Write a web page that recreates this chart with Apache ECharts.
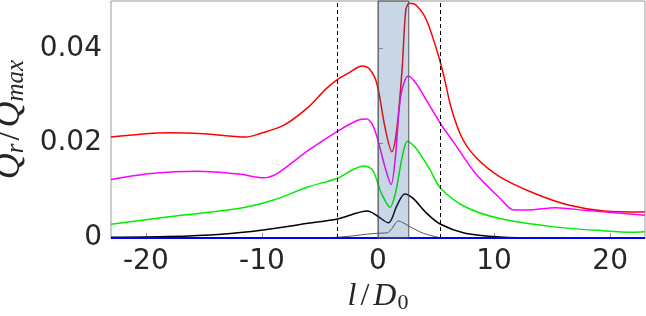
<!DOCTYPE html>
<html>
<head>
<meta charset="utf-8">
<script src="https://cdn.jsdelivr.net/npm/echarts@6/dist/echarts.min.js"></script>
<style>
  html, body { margin: 0; padding: 0; background: #fff; }
  #main { width: 646px; height: 316px; }
</style>
</head>
<body>
<div id="main"></div>
<script>
// values, x = l/D0, y = Qr/Qmax
var redX = [-23, -18, -15, -11.4, -10.2, -8.1, -6, -4.5, -3.5, -2.4, -1.4, -0.75, -0.1, 0.6, 1.19, 1.64, 2.09, 2.39, 2.69, 3.29, 4.19, 5.24, 5.69, 6.29, 7.2, 8.4, 10.5, 13.5, 16.5, 19.5, 23]
var redY = [0.0213, 0.0222, 0.0220, 0.0213, 0.0220, 0.0238, 0.0276, 0.0314, 0.0334, 0.0350, 0.0363, 0.0357, 0.0326, 0.0234, 0.0182, 0.0234, 0.0361, 0.0480, 0.0495, 0.0491, 0.0459, 0.0382, 0.0340, 0.0276, 0.0213, 0.0171, 0.0129, 0.0094, 0.0069, 0.0057, 0.0055]

var magentaX = [-23, -19.5, -15.6, -12, -9.9, -8.7, -6, -3.5, -1.8, -0.97, -0.46, 0, 0.6, 1.13, 1.5, 1.95, 2.6, 3.29, 4.19, 5.39, 6.6, 8.4, 10.5, 11.7, 12.9, 15.3, 18, 23]
var magentaY = [0.01235, 0.0136, 0.0141, 0.0135, 0.0127, 0.0136, 0.0185, 0.0225, 0.0248, 0.0251, 0.0238, 0.0206, 0.0150, 0.0113, 0.0171, 0.0298, 0.0342, 0.0326, 0.0290, 0.0241, 0.0199, 0.0136, 0.0084, 0.0059, 0.0059, 0.0064, 0.0058, 0.0048]

var greenX = [-23, -18, -12, -9, -6, -3.5, -2.1, -1.2, -0.46, 0.3, 1.04, 1.5, 2.09, 2.54, 3.29, 4.5, 5.39, 7.5, 10.5, 15, 19.5, 21.9, 23]
var greenY = [0.0029, 0.0045, 0.0062, 0.0080, 0.0108, 0.0126, 0.0145, 0.0152, 0.0143, 0.0094, 0.0065, 0.0094, 0.0171, 0.0204, 0.0189, 0.0143, 0.0105, 0.0066, 0.0041, 0.0024, 0.0015, 0.0012, 0.0013]

var blackX = [-23, -18, -13.5, -9.9, -6, -3.5, -0.9, -0.15, 0.9, 1.64, 2.3, 3.0, 4.2, 5.39, 7.5, 10.5, 14, 23]
var blackY = [0.00014, 0.0003, 0.0008, 0.0017, 0.0031, 0.0040, 0.0057, 0.0048, 0.0032, 0.0069, 0.0093, 0.0084, 0.0052, 0.0029, 0.0010, 0.0002, 0, 0]

var grayX = [-23, -10, -5, -3.5, -2, -1, 0, 0.8, 1.2, 1.5, 1.75, 2.1, 2.6, 3.2, 3.9, 4.6, 5.3, 7, 23]
var grayY = [0, 0, 0.00005, 0.00015, 0.0005, 0.0008, 0.0010, 0.0011, 0.0020, 0.0031, 0.0036, 0.0033, 0.0026, 0.0018, 0.0010, 0.0005, 0.0001, 0, 0]

var blueX = [-23, 23]
var blueY = [0, 0]

var shadeRange = [0, 2.65]
var dashedAt = [-3.54, 5.39]
var xTicks = [-20, -10, 0, 10, 20]
var yTicks = [0, 0.02, 0.04]

function pairs (xs, ys) {
  return xs.map(function (x, i) { return [x, ys[i]] })
}

var txt = '#262626'
var axisGray = '#9a9a9a'

function line (data, color, width, z) {
  return {
    type: 'line',
    data: data,
    symbol: 'none',
    smooth: 0.3,
    z: z || 2,
    lineStyle: { color: color, width: width },
    silent: true
  }
}

var chart = echarts.init(document.getElementById('main'))

var blueSeries = line(pairs(blueX, blueY), '#0000ff', 2, 3)
blueSeries.smooth = false
blueSeries.clip = false

var overlay = {
  type: 'line',
  data: [],
  z: 6,
  markArea: {
    silent: true,
    z: 6,
    itemStyle: { color: 'rgba(40,90,150,0.25)', borderColor: '#555', borderWidth: 1 },
    data: [[{ xAxis: shadeRange[0] }, { xAxis: shadeRange[1] }]]
  },
  markLine: {
    silent: true,
    symbol: 'none',
    label: { show: false },
    lineStyle: { color: '#000', type: [4, 3], width: 1 },
    data: dashedAt.map(function (v) { return { xAxis: v } })
  }
}

var serif = 'Liberation Serif'

var option = {
  animation: false,
  backgroundColor: '#fff',
  grid: {
    left: 111, right: 1, top: 1, bottom: 78,
    outerBoundsMode: 'none',
    containLabel: false,
    show: true, borderColor: axisGray, borderWidth: 1
  },
  xAxis: {
    type: 'value',
    min: -23, max: 23,
    name: '{i|l}{n|/}{i|D}{s|0}',
    nameLocation: 'middle',
    nameGap: 42,
    nameTextStyle: {
      rich: {
        i: { fontFamily: serif, fontStyle: 'italic', fontSize: 32, color: txt, lineHeight: 34 },
        n: { fontFamily: serif, fontSize: 32, color: txt, lineHeight: 34, padding: [0, 4] },
        s: { fontFamily: serif, fontSize: 22, color: txt, verticalAlign: 'bottom', lineHeight: 22, padding: [0, 0, 0, 1] }
      }
    },
    axisLine: { show: true, lineStyle: { color: axisGray } },
    axisTick: { show: true, inside: true, length: 5, customValues: xTicks, lineStyle: { color: axisGray } },
    axisLabel: { customValues: xTicks, fontFamily: 'DejaVu Sans', fontSize: 28, color: txt, margin: 10 },
    splitLine: { show: false }
  },
  yAxis: {
    type: 'value',
    min: 0, max: 0.05,
    name: '{i|Q}{s|r}{n|/}{i|Q}{s|max}',
    nameLocation: 'middle',
    nameRotate: 90,
    nameGap: 74,
    nameTextStyle: {
      rich: {
        i: { fontFamily: serif, fontStyle: 'italic', fontSize: 36, color: txt, lineHeight: 38 },
        n: { fontFamily: serif, fontSize: 36, color: txt, lineHeight: 38, padding: [0, 3] },
        s: { fontFamily: serif, fontStyle: 'italic', fontSize: 25, color: txt, verticalAlign: 'bottom', lineHeight: 24 }
      }
    },
    axisLine: { show: true, lineStyle: { color: axisGray } },
    axisTick: { show: true, inside: true, length: 5, customValues: yTicks, lineStyle: { color: axisGray } },
    axisLabel: { customValues: yTicks, fontFamily: 'DejaVu Sans', fontSize: 28, color: txt, margin: 9 },
    splitLine: { show: false }
  },
  series: [
    line(pairs(redX, redY), '#ff0000', 1.5),
    line(pairs(magentaX, magentaY), '#ff00ff', 1.5),
    line(pairs(greenX, greenY), '#00ee00', 1.5),
    line(pairs(blackX, blackY), '#000000', 1.5),
    line(pairs(grayX, grayY), '#555555', 1),
    blueSeries,
    overlay
  ]
}

chart.setOption(option)
</script>
</body>
</html>
